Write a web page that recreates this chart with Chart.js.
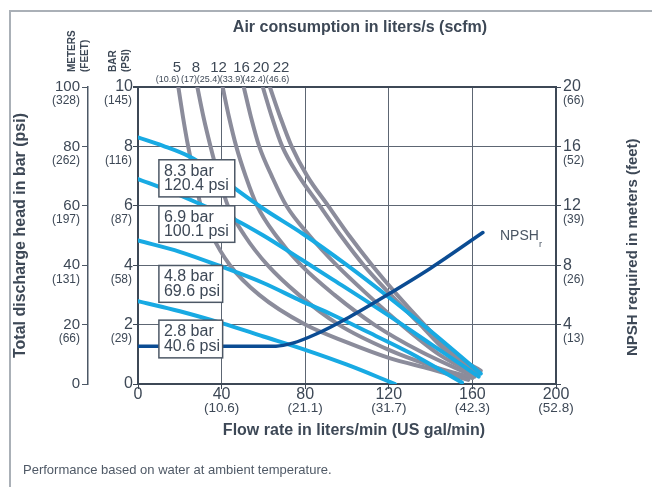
<!DOCTYPE html>
<html>
<head>
<meta charset="utf-8">
<script src="https://cdn.jsdelivr.net/npm/chart.js@4.4.1/dist/chart.umd.min.js"></script>
<style>
  html, body { margin: 0; padding: 0; background: #fff; }
  canvas { display: block; }
</style>
</head>
<body>
<canvas id="pump" width="652" height="487"></canvas>
<script>
// axis ticks + second-unit labels
const flowTicks = [0, 40, 80, 120, 160, 200];
const flowGpm   = ['', '(10.6)', '(21.1)', '(31.7)', '(42.3)', '(52.8)'];
const barTicks  = [0, 2, 4, 6, 8, 10];
const barPsi    = ['', '(29)', '(58)', '(87)', '(116)', '(145)'];
const meterTicks = [0, 20, 40, 60, 80, 100];
const meterFeet  = ['', '(66)', '(131)', '(197)', '(262)', '(328)'];
const npshTicks = [4, 8, 12, 16, 20];
const npshFeet  = ['(13)', '(26)', '(39)', '(52)', '(66)'];

// air consumption lines, l/s (scfm) — [flow l/min, head bar]
const airLps  = [5, 8, 12, 16, 20, 22];
const airScfm = ['(10.6)', '(17)', '(25.4)', '(33.9)', '(42.4)', '(46.6)'];
const air5  = [[19.3, 10], [21.5, 9], [24, 8], [27, 7], [30, 6], [35.5, 5], [44, 4], [58, 3], [80, 2], [100, 1.4], [120, 0.88], [140, 0.5], [158, 0.14]];
const air8  = [[28.4, 10], [31.3, 9], [34.7, 8], [38.5, 7], [43, 6], [51, 5], [62, 4], [77, 3], [96, 2], [120, 1.15], [140, 0.62], [160, 0.2]];
const air12 = [[40.5, 10], [43.5, 9], [47, 8], [51.5, 7], [57, 6], [66, 5], [78, 4], [94, 3], [113, 2], [135, 1.1], [161, 0.25]];
const air16 = [[50.6, 10], [54, 9], [58, 8], [64, 7], [71, 6], [82, 5], [95, 4], [110, 3], [126, 2], [144, 1], [162, 0.3]];
const air20 = [[59.7, 10], [64, 9], [69, 8], [77, 7], [87, 6], [97, 5], [108, 4], [121, 3], [135, 2], [149, 1], [163, 0.35]];
const air22 = [[63.1, 10], [68, 9], [73.5, 8], [81, 7], [91, 6], [101, 5], [112, 4], [124, 3], [137, 2], [151, 1], [164, 0.45]];

// inlet air pressure lines
const pressureBar = ['8.3 bar', '6.9 bar', '4.8 bar', '2.8 bar'];
const pressurePsi = ['120.4 psi', '100.1 psi', '69.6 psi', '40.6 psi'];
const p83 = [[0, 8.3], [12, 8.02], [24, 7.68], [35, 7.2], [47, 6.55], [60, 5.9], [79, 5.05], [100, 4.0], [120, 2.92], [140, 1.78], [164, 0.35]];
const p69 = [[0, 6.9], [15, 6.5], [30, 6.05], [46, 5.55], [60, 5.0], [78, 4.2], [92.5, 3.55], [120, 2.3], [140, 1.35], [163, 0.25]];
const p48 = [[0, 4.83], [20, 4.45], [40, 3.95], [60, 3.4], [78, 2.8], [92.5, 2.35], [110, 1.75], [130, 1.05], [155, 0.05]];
const p28 = [[0, 2.79], [20, 2.45], [40, 2.05], [60, 1.6], [80, 1.15], [100, 0.65], [123, 0]];

// NPSH required, meters
const npshReq = [[0, 2.55], [66, 2.55], [74, 2.75], [85, 3.35], [101, 4.5], [121, 6.15], [140, 7.8], [165, 10.2]];

const INK = '#3d4856';
const AXIS = '#3d4856';
const GRID = '#5d6673';
const GREY = '#8b8c9b';
const CYAN = '#18aae3';
const NAVY = '#0b4c93';
const FONT = "'Liberation Sans', Arial, sans-serif";

const pts = arr => arr.map(([x, y]) => ({ x, y }));

function put(ctx, s, x, y, size, align, bold, color) {
  ctx.font = (bold ? 'bold ' : '') + size + 'px ' + FONT;
  ctx.textAlign = align || 'center';
  ctx.textBaseline = 'middle';
  ctx.fillStyle = color || INK;
  ctx.fillText(s, x, y);
}
function putUp(ctx, s, x, y, size, align) {
  ctx.save();
  ctx.translate(x, y);
  ctx.rotate(-Math.PI / 2);
  put(ctx, s, 0, 0, size, align, true);
  ctx.restore();
}

// label boxes in data coords: [x0, x1, yTop, yBottom]
const boxPos = [[10, 46.3, 7.55, 6.3], [10, 46.3, 6.0, 4.77], [10, 40.5, 3.99, 2.75], [10, 40.5, 2.15, 0.88]];
const airLabelX = [177, 196, 218.5, 241.5, 261, 281];
const airSubX   = [167.5, 189, 208.5, 231.5, 254, 277.5];

const overlay = {
  id: 'overlay',
  afterDraw(chart) {
    const { ctx, chartArea: a, scales: { x, y, y2, ym } } = chart;
    ctx.save();
    // outer frame
    ctx.strokeStyle = '#aab0b7';
    ctx.lineWidth = 2;
    ctx.beginPath();
    ctx.moveTo(10, 487); ctx.lineTo(10, 11); ctx.lineTo(652, 11);
    ctx.stroke();

    put(ctx, 'Air consumption in liters/s (scfm)', 360, 28, 16, 'center', true);
    airLps.forEach((v, i) => {
      put(ctx, String(v), airLabelX[i], 68, 15);
      put(ctx, airScfm[i], airSubX[i], 80, 9);
    });

    const mid = (a.top + a.bottom) / 2;
    putUp(ctx, 'Total discharge head in bar (psi)', 21, mid, 16, 'center');
    putUp(ctx, 'NPSH required in meters (feet)', 633, 356, 15, 'left');
    putUp(ctx, 'METERS', 72.5, 72, 10, 'left');
    putUp(ctx, '(FEET)', 85.5, 72, 10, 'left');
    putUp(ctx, 'BAR', 113.5, 72, 10, 'left');
    putUp(ctx, '(PSI)', 126.5, 72, 10, 'left');

    barTicks.forEach((v, i) => {
      const py = y.getPixelForValue(v);
      put(ctx, String(v), a.left - 5, py, 16, 'right');
      if (barPsi[i]) put(ctx, barPsi[i], a.left - 6, py + 14, 12, 'right');
    });
    meterTicks.forEach((v, i) => {
      const py = ym.getPixelForValue(v);
      put(ctx, String(v), ym.right - 8, py, 15, 'right');
      if (meterFeet[i]) put(ctx, meterFeet[i], ym.right - 8, py + 14, 12, 'right');
    });
    npshTicks.forEach((v, i) => {
      const py = y2.getPixelForValue(v);
      put(ctx, String(v), a.right + 7, py, 16, 'left');
      put(ctx, npshFeet[i], a.right + 7, py + 14, 12, 'left');
    });
    flowTicks.forEach((v, i) => {
      const px = x.getPixelForValue(v);
      put(ctx, String(v), px, a.bottom + 11, 16, 'center');
      if (flowGpm[i]) put(ctx, flowGpm[i], px, a.bottom + 24, 13.5, 'center');
    });
    put(ctx, 'Flow rate in liters/min (US gal/min)', 354, 431, 16, 'center', true);
    put(ctx, 'Performance based on water at ambient temperature.', 23, 470, 13, 'left', false, '#4f5966');

    // pressure label boxes
    boxPos.forEach((b, i) => {
      const l = x.getPixelForValue(b[0]), r = x.getPixelForValue(b[1]);
      const t = y.getPixelForValue(b[2]), btm = y.getPixelForValue(b[3]);
      ctx.fillStyle = '#fff';
      ctx.fillRect(l, t, r - l, btm - t);
      ctx.strokeStyle = '#4d5866';
      ctx.lineWidth = 1.5;
      ctx.strokeRect(l, t, r - l, btm - t);
      put(ctx, pressureBar[i], l + 5, t + 11.5, 16, 'left');
      put(ctx, pressurePsi[i], l + 5, t + 26, 16, 'left');
    });

    put(ctx, 'NPSH', 500, 236, 14, 'left', false, '#4a5563');
    put(ctx, 'r', 539, 245, 9, 'left', false, '#4a5563');
    ctx.restore();
  }
};

function curve(data, color, width, axis, order) {
  return {
    data: pts(data), borderColor: color, borderWidth: width, pointRadius: 0,
    cubicInterpolationMode: 'monotone', fill: false, yAxisID: axis, order,
    borderCapStyle: 'round', borderJoinStyle: 'round'
  };
}

new Chart(document.getElementById('pump').getContext('2d'), {
  type: 'line',
  data: {
    datasets: [
      curve(npshReq, NAVY, 3.5, 'y2', 0),
      curve(p83, CYAN, 4, 'y', 1),
      curve(p69, CYAN, 4, 'y', 1),
      curve(p48, CYAN, 4, 'y', 1),
      curve(p28, CYAN, 4, 'y', 1),
      curve(air5, GREY, 4, 'y', 2),
      curve(air8, GREY, 4, 'y', 2),
      curve(air12, GREY, 4, 'y', 2),
      curve(air16, GREY, 4, 'y', 2),
      curve(air20, GREY, 4, 'y', 2),
      curve(air22, GREY, 4, 'y', 2),
    ]
  },
  options: {
    responsive: false,
    animation: false,
    layout: { padding: { top: 87, left: 0, right: 0, bottom: 0 } },
    plugins: { legend: { display: false }, tooltip: { enabled: false } },
    scales: {
      x: {
        type: 'linear', min: 0, max: 200,
        ticks: { stepSize: 40, display: false },
        grid: { color: GRID, tickLength: 5, tickColor: AXIS },
        border: { color: AXIS, width: 2 },
        afterFit(s) { s.height = 103; }
      },
      y: {
        position: 'left', min: 0, max: 10, weight: 0,
        ticks: { stepSize: 2, display: false },
        grid: {
          color: c => c.tick && c.tick.value === 10 ? AXIS : GRID,
          lineWidth: c => c.tick && c.tick.value === 10 ? 2 : 1,
          tickLength: 5, tickColor: AXIS
        },
        border: { color: AXIS, width: 2 },
        afterFit(s) { s.width = 50; }
      },
      ym: {
        position: 'left', min: 0, max: 100, weight: 1,
        ticks: { stepSize: 20, display: false },
        grid: { drawOnChartArea: false, tickLength: 6, tickColor: '#4d5866' },
        border: { color: '#4d5866', width: 1.5 },
        afterFit(s) { s.width = 88; }
      },
      y2: {
        position: 'right', min: 0, max: 20,
        ticks: { stepSize: 4, display: false },
        grid: { drawOnChartArea: false, tickLength: 5, tickColor: AXIS },
        border: { color: AXIS, width: 2 },
        afterFit(s) { s.width = 96; }
      }
    }
  },
  plugins: [overlay]
});
</script>
</body>
</html>
